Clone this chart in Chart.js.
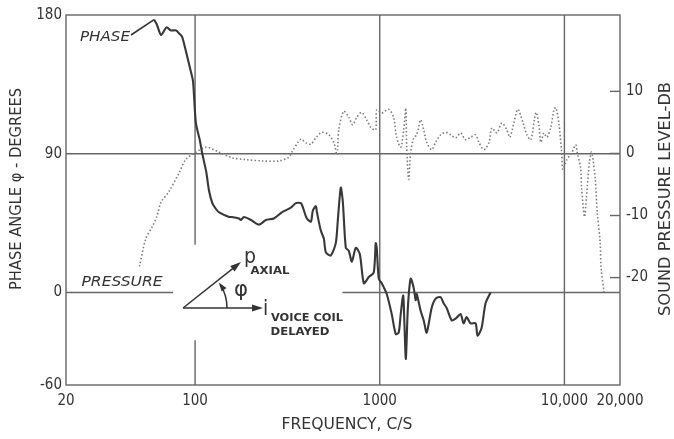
<!DOCTYPE html>
<html>
<head>
<meta charset="utf-8">
<script src="https://cdn.jsdelivr.net/npm/chart.js@4.4.0/dist/chart.umd.min.js"></script>
<style>
  html, body { margin: 0; padding: 0; background: #fff; }
  #wrap { width: 674px; height: 439px; }
</style>
</head>
<body>
<div id="wrap"><canvas id="chart" width="674" height="439"></canvas></div>
<script>
// ===== DATA =====
// Phase angle, degrees (left axis)
const phaseFreq = [60, 62, 65.5, 70, 74, 79, 82, 85, 89, 95,
  97.5, 101, 106, 109, 115, 119, 124, 130, 135, 153,
  158, 173, 177, 184, 201, 222, 242, 267, 295, 330,
  351, 374, 384, 403, 424, 434, 451, 457, 480, 498,
  511, 543, 578, 593, 615, 631, 655, 680, 706, 742,
  780, 820, 872, 928, 951, 963, 988, 1025, 1091, 1161,
  1221, 1267, 1299, 1340, 1360, 1385, 1420, 1471, 1527, 1565,
  1585, 1666, 1729, 1796, 1910, 2008, 2136, 2218, 2302, 2450,
  2575, 2741, 2845, 2953, 3103, 3303, 3386, 3560, 3741, 3981];
const phaseDeg = [177, 174, 167, 172, 170, 170, 168, 166, 157, 143,
  137, 110, 99, 91, 78, 66, 58, 54, 52, 49,
  49, 48, 47, 49, 47, 44, 47, 48, 52, 55,
  58, 58, 55, 48, 46, 53, 56, 52, 40, 35,
  26, 24, 32, 47, 68, 59, 29, 27, 20, 29,
  25, 6, 10, 13, 32, 29, 9, 6, -1, -14,
  -27, -26, -14, -2, -20, -43, -10, 9, 3, -5,
  -1, -12, -18, -26, -10, -4, -3, -7, -10, -18,
  -17, -14, -20, -16, -20, -20, -28, -23, -7, 0];

// Sound pressure level, dB (right axis)
const pressFreq = [50, 54, 58.6, 62, 65.5, 72, 82, 89, 101, 115,
  135, 158, 189, 230, 285, 322, 334, 374, 398, 424,
  451, 486, 530, 565, 587, 600, 638, 680, 714, 750,
  797, 850, 894, 951, 963, 1025, 1118, 1189, 1234, 1299,
  1348, 1383, 1400, 1435, 1471, 1527, 1585, 1666, 1729, 1796,
  1910, 2008, 2136, 2273, 2420, 2575, 2741, 2916, 3103, 3303,
  3441, 3663, 3899, 4046, 4306, 4584, 4879, 5063, 5323, 5597,
  5958, 6262, 6583, 7007, 7274, 7457, 7739, 8032, 8448, 8769,
  8988, 9329, 9682, 9804, 10303, 10960, 11509, 11794, 12233, 12383,
  12845, 13163, 13652, 13991, 14166, 14693, 15057, 15617, 15812, 16398];
const pressDb = [-18.2, -13.8, -11.8, -10.2, -7.8, -6.2, -3.1, -1.0, 0.2, 1.0,
  0.2, -0.7, -1.0, -1.2, -1.2, -0.6, 0.2, 2.3, 1.7, 1.5,
  2.5, 3.4, 3.0, 1.7, -0.2, 3.8, 6.8, 5.8, 4.6, 5.8,
  6.6, 5.4, 4.2, 3.8, 7.0, 6.5, 7.1, 5.8, 2.6, 1.0,
  3.8, 7.3, 1.0, -4.2, 0.2, 2.5, 3.0, 5.4, 3.8, 1.8,
  0.6, 1.8, 3.0, 3.4, 3.0, 2.5, 3.3, 2.2, 2.6, 3.0,
  1.8, 0.6, 1.7, 4.1, 3.3, 4.9, 3.8, 2.6, 4.9, 7.1,
  5.0, 3.0, 2.2, 6.6, 4.6, 1.8, 3.3, 2.6, 4.2, 7.0,
  7.4, 4.9, -0.2, -2.6, -1.0, 0.1, 1.4, -0.2, -2.2, -5.4,
  -10.2, -7.0, -1.5, 0.2, -0.2, -4.2, -9.5, -14.3, -18.6, -22.3];

// ticks
const freqTicks = [20, 100, 1000, 10000, 20000];
const freqTickLabels = ['20', '100', '1000', '10,000', '20,000'];
const phaseTicks = [-60, 0, 90, 180];
const dbTicks = [-20, -10, 0, 10];

// ===== STYLE =====
const INK = '#333';
const GRID = '#666';
const FONT = "'DejaVu Sans Condensed', 'DejaVu Sans', sans-serif";

// scale a string to a measured width, optionally rotated
function fitText(ctx, str, cx, cy, width, font, rot) {
  ctx.save();
  ctx.font = font;
  const w = ctx.measureText(str).width;
  ctx.translate(cx, cy);
  if (rot) ctx.rotate(rot);
  ctx.scale(width / w, 1);
  ctx.textAlign = 'center';
  ctx.textBaseline = 'middle';
  ctx.fillStyle = INK;
  ctx.fillText(str, 0, 0);
  ctx.restore();
}

function arrowHead(ctx, tx, ty, ang, len, half) {
  ctx.beginPath();
  ctx.moveTo(tx, ty);
  ctx.lineTo(tx - len * Math.cos(ang) + half * Math.sin(ang), ty - len * Math.sin(ang) - half * Math.cos(ang));
  ctx.lineTo(tx - len * Math.cos(ang) - half * Math.sin(ang), ty - len * Math.sin(ang) + half * Math.cos(ang));
  ctx.closePath();
  ctx.fill();
}

// ===== PAPER PLUGIN: frame, broken grid lines, labels, vector sketch =====
const paper = {
  id: 'paper',
  beforeDraw(chart) {
    const { ctx, width, height } = chart;
    ctx.save();
    ctx.fillStyle = '#fff';
    ctx.fillRect(0, 0, width, height);
    ctx.restore();
  },
  beforeDatasetsDraw(chart) {
    const { ctx, chartArea: a, scales } = chart;
    const x = scales.x, y = scales.y, y2 = scales.y2;
    ctx.save();
    ctx.strokeStyle = GRID;
    ctx.lineWidth = 1.4;
    ctx.strokeRect(a.left, a.top, a.right - a.left, a.bottom - a.top);

    const seg = (x1, y1, x2, y2_) => {
      ctx.beginPath(); ctx.moveTo(x1, y1); ctx.lineTo(x2, y2_); ctx.stroke();
    };
    // vertical grid (100 c/s line broken around the sketch)
    const x100 = x.getPixelForValue(100);
    seg(x100, a.top, x100, y.getPixelForValue(31));
    seg(x100, y.getPixelForValue(-31), x100, a.bottom);
    [1000, 10000].forEach(f => {
      const px = x.getPixelForValue(f);
      seg(px, a.top, px, a.bottom);
    });
    // horizontal grid
    const y90 = y.getPixelForValue(90);
    seg(a.left, y90, a.right, y90);
    const y0 = y.getPixelForValue(0);
    seg(a.left, y0, x.getPixelForValue(76), y0);
    seg(x.getPixelForValue(628), y0, a.right, y0);
    // right axis tick marks (inward)
    dbTicks.forEach(v => {
      const py = y2.getPixelForValue(v);
      seg(a.right - 10, py, a.right, py);
    });
    ctx.restore();
  },
  afterDatasetsDraw(chart) {
    const { ctx, scales } = chart;
    const x = scales.x, y = scales.y;
    ctx.save();
    ctx.fillStyle = INK;
    ctx.strokeStyle = INK;

    // axis titles
    fitText(ctx, 'FREQUENCY, C/S', 347, 425, 131, `15px ${FONT}`);
    fitText(ctx, 'PHASE ANGLE \u03C6 - DEGREES', 17, 189, 202, `15px ${FONT}`, -Math.PI / 2);
    fitText(ctx, 'SOUND PRESSURE LEVEL-DB', 666, 199, 234, `15px ${FONT}`, -Math.PI / 2);

    // curve labels
    fitText(ctx, 'PHASE', 105, 37, 50, `italic 14px ${FONT}`);
    fitText(ctx, 'PRESSURE', 122, 282, 81, `italic 14px ${FONT}`);
    // leader from PHASE label to the curve start
    ctx.lineWidth = 1.6;
    ctx.beginPath();
    ctx.moveTo(131, 35);
    ctx.lineTo(x.getPixelForValue(phaseFreq[0]), y.getPixelForValue(phaseDeg[0]));
    ctx.stroke();

    // vector sketch: p axial leads i voice coil by phi
    const ox = 183, oy = 308;
    ctx.lineWidth = 1.5;
    ctx.beginPath(); ctx.moveTo(ox, oy); ctx.lineTo(256, oy); ctx.stroke();
    arrowHead(ctx, 263, oy, 0, 11, 3.5);
    const ang = Math.atan2(262 - oy, 241 - ox);
    const tipX = 241, tipY = 262;
    ctx.beginPath(); ctx.moveTo(ox, oy); ctx.lineTo(tipX - 7 * Math.cos(ang), tipY - 7 * Math.sin(ang)); ctx.stroke();
    arrowHead(ctx, tipX, tipY, ang, 11, 3.5);
    const r = 44;
    ctx.beginPath(); ctx.arc(ox, oy, r, 0, ang + 0.12, true); ctx.stroke();
    const ea = ang + 0.05;
    arrowHead(ctx, ox + r * Math.cos(ea), oy + r * Math.sin(ea), ea - Math.PI / 2, 9, 3);

    ctx.textAlign = 'left';
    ctx.textBaseline = 'alphabetic';
    ctx.font = `21px ${FONT}`;
    ctx.fillText('p', 244, 263);
    ctx.fillText('i', 263, 315);
    fitText(ctx, '\u03C6', 241, 291, 14, `21px ${FONT}`);
    fitText(ctx, 'AXIAL', 270, 271, 39, `bold 11px ${FONT}`);
    fitText(ctx, 'VOICE COIL', 307, 318, 72, `bold 11px ${FONT}`);
    fitText(ctx, 'DELAYED', 300, 332, 59, `bold 11px ${FONT}`);
    ctx.restore();
  }
};

// ===== CHART =====
const ctx = document.getElementById('chart').getContext('2d');

new Chart(ctx, {
  type: 'line',
  data: {
    datasets: [
      {
        label: 'Phase',
        data: phaseFreq.map((f, i) => ({ x: f, y: phaseDeg[i] })),
        yAxisID: 'y',
        borderColor: '#383838',
        borderWidth: 2.1,
        pointRadius: 0,
        tension: 0.25,
        fill: false,
      },
      {
        label: 'Pressure',
        data: pressFreq.map((f, i) => ({ x: f, y: pressDb[i] })),
        yAxisID: 'y2',
        borderColor: '#7c7c7c',
        borderWidth: 1.6,
        borderDash: [1.5, 2.2],
        pointRadius: 0,
        tension: 0.3,
        fill: false,
      }
    ]
  },
  options: {
    responsive: false,
    animation: false,
    devicePixelRatio: 1,
    layout: { padding: { top: 15, left: 0, right: 0, bottom: 0 } },
    plugins: { legend: { display: false }, tooltip: { enabled: false } },
    scales: {
      x: {
        type: 'logarithmic',
        min: 20,
        max: 20000,
        afterBuildTicks: s => { s.ticks = freqTicks.map(v => ({ value: v })); },
        afterFit: s => { s.height = 54; },
        grid: { display: false, drawTicks: false },
        border: { display: false },
        ticks: {
          color: INK,
          font: { family: FONT, size: 15 },
          padding: 7,
          maxRotation: 0,
          autoSkip: false,
          callback: v => freqTickLabels[freqTicks.indexOf(v)] ?? ''
        }
      },
      y: {
        position: 'left',
        min: -60,
        max: 180,
        afterBuildTicks: s => { s.ticks = phaseTicks.map(v => ({ value: v })); },
        afterFit: s => { s.width = 66; },
        grid: { display: false, drawTicks: false },
        border: { display: false },
        ticks: { color: INK, font: { family: FONT, size: 15 }, padding: 4 }
      },
      y2: {
        position: 'right',
        min: -37.3,
        max: 22.3,
        afterBuildTicks: s => { s.ticks = dbTicks.map(v => ({ value: v })); },
        afterFit: s => { s.width = 54; },
        grid: { display: false, drawTicks: false },
        border: { display: false },
        ticks: { color: INK, font: { family: FONT, size: 15 }, padding: 6 }
      }
    }
  },
  plugins: [paper]
});
</script>
</body>
</html>
